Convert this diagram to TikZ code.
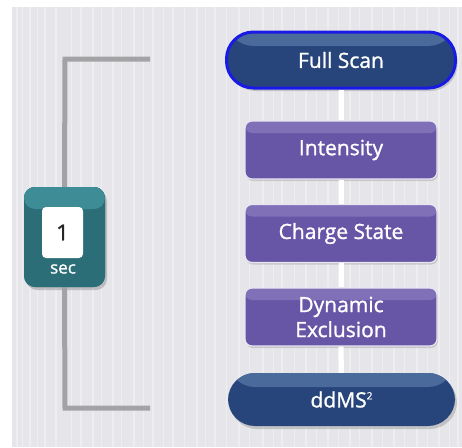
\documentclass[tikz,border=0pt]{standalone}
\usepackage{fontspec}
\setmainfont{Open Sans}
\newfontfamily\labelfont[FakeBold=1.2]{Open Sans}
\usetikzlibrary{shadows}
\definecolor{bgc}{HTML}{E6E6EA}
\definecolor{stripe}{HTML}{EEEEF1}
\definecolor{bracketc}{HTML}{A3A3A6}
\definecolor{navy}{HTML}{27457A}
\definecolor{navylight}{HTML}{4A6A9C}
\definecolor{glow}{HTML}{1A1AE6}
\definecolor{purp}{HTML}{6755A6}
\definecolor{purplight}{HTML}{8070B8}
\definecolor{teal}{HTML}{2B6E77}
\definecolor{teallight}{HTML}{3E8C95}
\tikzset{
  boxtext/.style={text=white, font=\labelfont\fontsize{21}{25}\selectfont, align=center},
  pill/.style={boxtext, rectangle, rounded corners=27pt, fill=navy,
    minimum height=56pt,
    drop shadow={shadow xshift=2pt, shadow yshift=-3pt, opacity=0.35},
    path picture={\fill[navylight] (path picture bounding box.north west) rectangle ([yshift=-14pt]path picture bounding box.north east);}},
  filterbox/.style={boxtext, rectangle, rounded corners=7pt, fill=purp,
    draw=white!85!purp, line width=1.2pt,
    minimum width=192pt, minimum height=58pt,
    drop shadow={shadow xshift=1pt, shadow yshift=-2pt, opacity=0.3},
    path picture={\fill[purplight] (path picture bounding box.north west) rectangle ([yshift=-12pt]path picture bounding box.north east);}},
  link/.style={draw=white, line width=5pt},
  bracket/.style={draw=bracketc, line width=5pt},
  secbox/.style={rectangle, rounded corners=11pt, fill=teal, minimum width=81pt, minimum height=100pt,
    path picture={\fill[teallight] (path picture bounding box.north west) rectangle ([yshift=-22pt]path picture bounding box.north east);}},
}
\begin{document}
\begin{tikzpicture}[x=1pt, y=-1pt]
  \useasboundingbox (0,0) rectangle (462,447);
  % background
  \fill[bgc] (12,7) rectangle (462,447);
  \foreach \xx/\ww in {16/1.5,22/1,29/2,37/1,44/1.5,55/2,71/1,80/1.5,92/2,101/1,112/1.5,121/1,133/2,143/1,152/1.5,163/1,172/2,184/1,196/1.5,205/1,214/2,226/1,238/1.5,249/1,262/2,273/1,281/1.5,294/1,305/2,316/1,327/1.5,338/1,349/2,359/1,371/1.5,382/1,393/2,404/1,416/1.5,427/1,438/2,449/1,457/1.5}
    \fill[stripe] (\xx,7) rectangle ++(\ww,440);

  % bracket and timer
  \coordinate (bt) at (150,59);
  \coordinate (bb) at (150,408);
  \node[secbox, drop shadow={shadow xshift=2pt, shadow yshift=-3pt, opacity=0.4}] (sec) at (64.5,237) {};
  \draw[bracket] (bt) -- (65,59) -- (sec.north);
  \draw[bracket] (sec.south) -- (65,408) -- (bb);
  \node[secbox] (secfront) at (sec) {};
  \node[rectangle, rounded corners=4pt, fill=white, minimum width=41pt, minimum height=51pt,
        font=\labelfont\fontsize{22}{24}\selectfont, text=black!85] (val) at (62.5,232.5) {1};
  \node[text=white, font=\labelfont\fontsize{17}{18}\selectfont, inner sep=0pt] (unit) at (63,269) {sec};

  % chain
  \node[pill, minimum width=229pt, draw=glow, line width=3pt] (full) at (341,60) {Full Scan};
  \node[filterbox] (inten) at (341,150) {Intensity};
  \node[filterbox] (charge) at (341,233.5) {Charge State};
  \node[filterbox] (dyn) at (341,317) {Dynamic\\Exclusion};
  \node[pill, minimum width=227pt, minimum height=53pt] (dd) at (341.5,399.5) {ddMS\raisebox{8pt}{\fontsize{10}{10}\selectfont 2}};

  \draw[link] (full.south) -- (inten.north);
  \draw[link] (inten.south) -- (charge.north);
  \draw[link] (charge.south) -- (dyn.north);
  \draw[link] (dyn.south) -- (dd.north);
\end{tikzpicture}
\end{document}
